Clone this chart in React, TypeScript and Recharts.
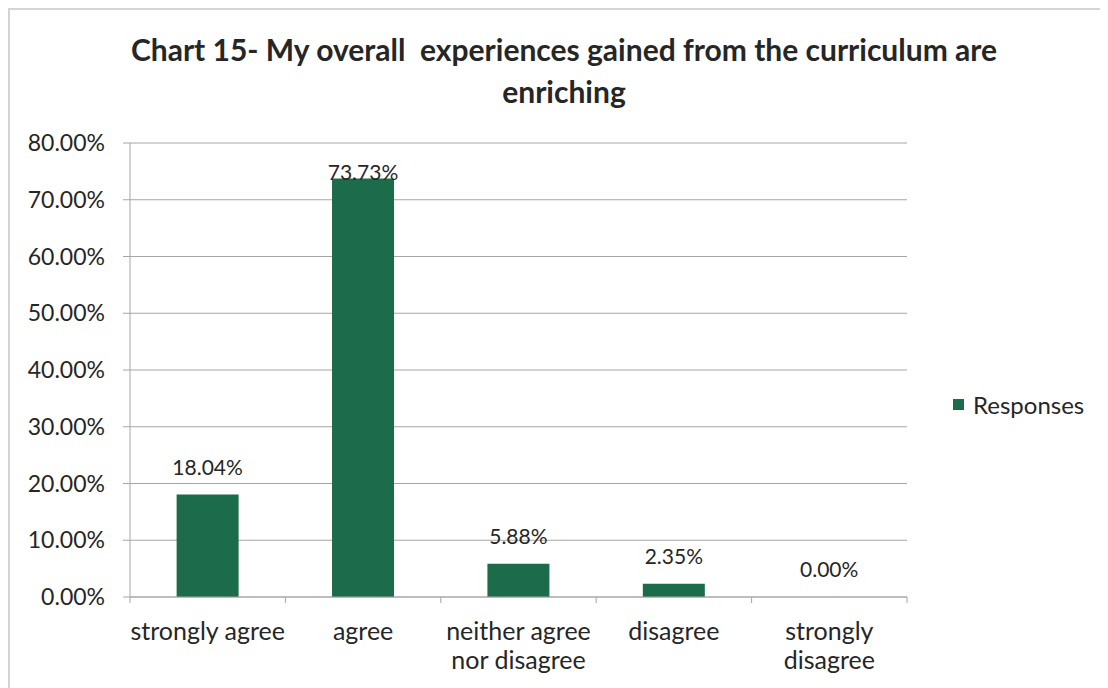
import React from 'react'
import { BarChart, Bar, XAxis, YAxis, CartesianGrid } from 'recharts'

const categories = ['strongly agree', 'agree', 'neither agree nor disagree', 'disagree', 'strongly disagree']
const responses = [18.04, 73.73, 5.88, 2.35, 0.0]
const yTicks = [0, 10, 20, 30, 40, 50, 60, 70, 80]

const data = categories.map((c, i) => ({ name: c, Responses: responses[i] }))

const FONT = 'Lato, "Open Sans", sans-serif'
const GREEN = '#1c6b4b'
const GRID = '#a6a6a6'
const PLOT_TOP = 133
const PLOT_BOTTOM = 587

function wrapWords(s: string, maxChars: number) {
  const lines: string[] = []
  let cur = ''
  for (const w of s.split(' ')) {
    const next = cur ? cur + ' ' + w : w
    if (next.length > maxChars && cur) {
      lines.push(cur)
      cur = w
    } else cur = next
  }
  if (cur) lines.push(cur)
  return lines
}

function CategoryTick(props: any) {
  const { x, y, payload, index } = props
  const half = payload.offset || 0
  const axisY = y - 8
  const lines = wrapWords(String(payload.value), 14)
  return (
    <g>
      {/* excel puts the tick marks between categories */}
      <line x1={x - half} x2={x - half} y1={axisY} y2={axisY + 6} stroke={GRID} />
      {index === categories.length - 1 && (
        <line x1={x + half} x2={x + half} y1={axisY} y2={axisY + 6} stroke={GRID} />
      )}
      <text x={x} y={y + 35} textAnchor="middle" fontSize={25} fontFamily={FONT} fill="#262626">
        {lines.map((l, i) => (
          <tspan key={i} x={x} dy={i === 0 ? 0 : 29}>{l}</tspan>
        ))}
      </text>
    </g>
  )
}

function ValueLabel(props: any) {
  const vb = props.viewBox || {}
  const x = props.x ?? vb.x
  const width = props.width ?? vb.width ?? 0
  const top = Number.isFinite(props.y) ? props.y : (vb.y ?? PLOT_BOTTOM)
  const value = Number(props.value ?? 0)
  // excel keeps the label inside the plot area
  const cy = Math.max(top - 28, PLOT_TOP + 28)
  return (
    <text x={x + width / 2} y={cy} textAnchor="middle" dominantBaseline="central"
      fontSize={21} fontFamily={FONT} fill="#262626">
      {value.toFixed(2)}%
    </text>
  )
}

export default function App() {
  return (
    <div style={{
      position: 'relative', width: 1100, height: 680,
      borderTop: '2px solid #d4d4d4', borderLeft: '2px solid #d4d4d4', background: '#fff',
    }}>
      {/* 标题 */}
      <div style={{
        position: 'absolute', left: 54, top: 18, width: 1000, textAlign: 'center',
        fontFamily: FONT, fontWeight: 700, fontSize: 30, lineHeight: '42px', color: '#262626',
      }}>
        Chart 15- My overall&nbsp; experiences gained from the curriculum are<br />enriching
      </div>
      {/* 图例 */}
      <div style={{
        position: 'absolute', left: 943, top: 380, display: 'flex', alignItems: 'center',
        fontFamily: FONT, fontSize: 24, color: '#262626',
      }}>
        <span style={{ width: 11, height: 11, background: GREEN, display: 'inline-block', marginRight: 9 }} />
        Responses
      </div>
      <BarChart width={1098} height={678} data={data}
        margin={{ top: PLOT_TOP, right: 201, left: 0, bottom: 678 - PLOT_BOTTOM - 70 }}
        barCategoryGap="30%">
        <CartesianGrid vertical={false} stroke={GRID} />
        <XAxis dataKey="name" height={70} interval={0} tickLine={false}
          axisLine={{ stroke: GRID }} tick={<CategoryTick />} />
        <YAxis width={120} domain={[0, 80]} ticks={yTicks} tickSize={7} tickMargin={18}
          axisLine={{ stroke: GRID }} tickLine={{ stroke: GRID }}
          tickFormatter={(v: number) => `${v.toFixed(2)}%`}
          tick={{ fontSize: 23, fontFamily: FONT, fill: '#262626' }} />
        <Bar dataKey="Responses" fill={GREEN} isAnimationActive={false}
          minPointSize={0.01} label={<ValueLabel />} />
      </BarChart>
    </div>
  )
}
